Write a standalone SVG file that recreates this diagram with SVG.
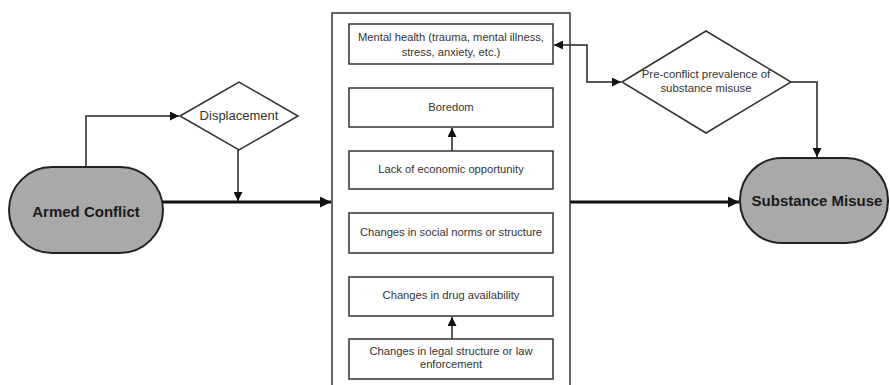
<svg xmlns="http://www.w3.org/2000/svg" width="890" height="385" viewBox="0 0 890 385">
<style>
.box{fill:#fff;stroke:#333;stroke-width:1.5}
.pill{fill:#a9a9a9;stroke:#222;stroke-width:2}
.t{font-family:"Liberation Sans",Arial,sans-serif;font-size:11.2px;fill:#333;text-anchor:middle;dominant-baseline:central}
.big{font-family:"Liberation Sans",Arial,sans-serif;font-size:15px;font-weight:bold;fill:#1a1a1a;text-anchor:middle;dominant-baseline:central}
.c{fill:none;stroke:#222;stroke-width:1.5}
.thick{fill:none;stroke:#111;stroke-width:3}
</style>
<defs>
<marker id="a" viewBox="0 0 10 10" refX="10" refY="5" markerWidth="7" markerHeight="7" markerUnits="userSpaceOnUse" orient="auto-start-reverse"><path d="M0,0 L10,5 L0,10 Z" fill="#111"/></marker>
<marker id="ab" viewBox="0 0 10 10" refX="10" refY="5" markerWidth="12" markerHeight="11" markerUnits="userSpaceOnUse" orient="auto"><path d="M0,0 L10,5 L0,10 Z" fill="#111"/></marker>
<marker id="am" viewBox="0 0 10 10" refX="10" refY="5" markerWidth="10" markerHeight="9" markerUnits="userSpaceOnUse" orient="auto-start-reverse"><path d="M0,0 L10,5 L0,10 Z" fill="#111"/></marker>
</defs>
<rect width="890" height="385" fill="#fff"/>
<g id="connectors">
<path class="thick" d="M163,202 H331" marker-end="url(#ab)"/>
<path class="thick" d="M570,202 H739" marker-end="url(#ab)"/>
<path class="c" d="M86,167 V116 H179" marker-end="url(#am)"/>
<path class="c" d="M238,150 V201" marker-end="url(#am)"/>
<path class="c" d="M554,45 H587 V82 H621" marker-start="url(#am)" marker-end="url(#am)"/>
<path class="c" d="M791,82 H817 V157" marker-end="url(#am)"/>
<path class="c" d="M452,151 V128" marker-end="url(#am)"/>
<path class="c" d="M452,339 V317" marker-end="url(#am)"/>
</g>
<g id="container"><rect x="332" y="13" width="238" height="380" fill="none" stroke="#333" stroke-width="1.5"/></g>
<g id="armed-conflict"><rect class="pill" x="9" y="167" width="154" height="86" rx="43"/><text class="big" x="86" y="211">Armed Conflict</text></g>
<g id="substance-misuse"><rect class="pill" x="740" y="158" width="148" height="85" rx="42"/><text class="big" x="817" y="200">Substance Misuse</text></g>
<g id="displacement"><polygon class="box" points="180,116 239,82 298,116 239,150"/><text class="t" x="239" y="115" style="font-size:13px">Displacement</text></g>
<g id="pre-conflict"><polygon class="box" points="622,82 706,31 791,82 706,133"/><text class="t" x="706" y="74" style="font-size:11.4px">Pre-conflict prevalence of</text><text class="t" x="706" y="88" style="font-size:11.4px">substance misuse</text></g>
<g id="mental-health"><rect class="box" x="349" y="24" width="204" height="40"/><text class="t" x="451" y="37">Mental health (trauma, mental illness,</text><text class="t" x="451" y="52">stress, anxiety, etc.)</text></g>
<g id="boredom"><rect class="box" x="349" y="88" width="204" height="39"/><text class="t" x="451" y="107">Boredom</text></g>
<g id="economic"><rect class="box" x="349" y="151" width="204" height="38"/><text class="t" x="451" y="169">Lack of economic opportunity</text></g>
<g id="social"><rect class="box" x="349" y="213" width="204" height="40"/><text class="t" x="451" y="232">Changes in social norms or structure</text></g>
<g id="drug"><rect class="box" x="349" y="277" width="204" height="39"/><text class="t" x="451" y="295">Changes in drug availability</text></g>
<g id="legal"><rect class="box" x="349" y="339" width="204" height="40"/><text class="t" x="451" y="351">Changes in legal structure or law</text><text class="t" x="451" y="364">enforcement</text></g>
</svg>
